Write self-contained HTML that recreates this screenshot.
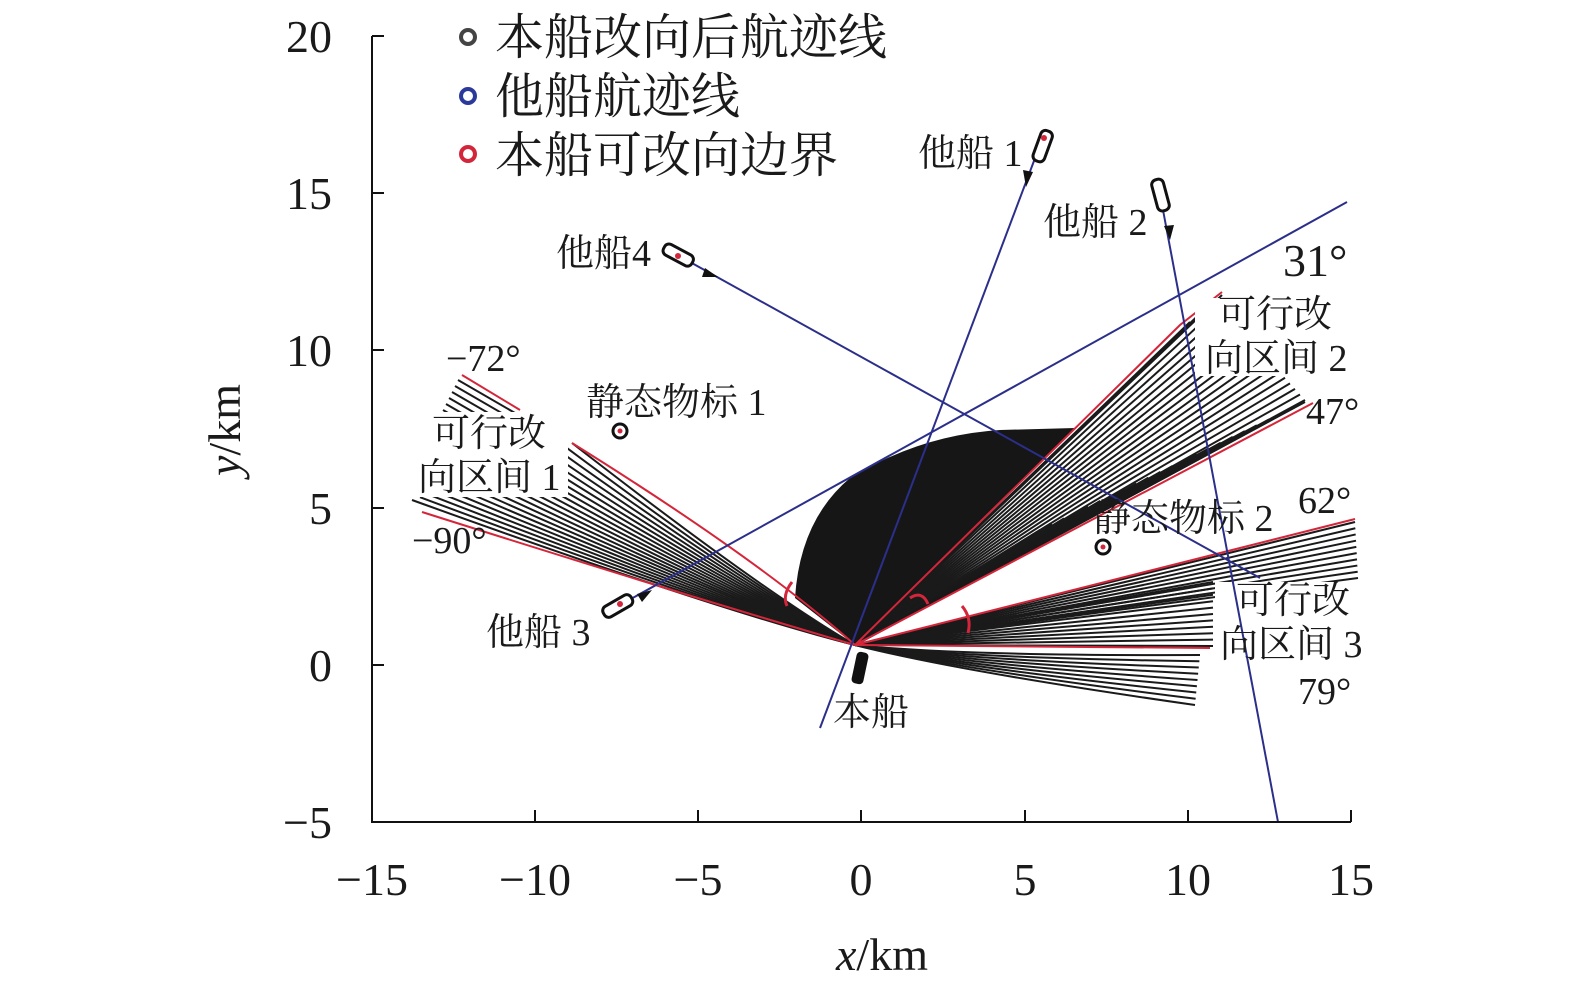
<!DOCTYPE html>
<html><head><meta charset="utf-8"><style>
html,body{margin:0;padding:0;background:#fff;}
svg{display:block;}
text{font-family:"Liberation Serif","Noto Serif CJK SC",serif;fill:#1a1a1a;}
</style></head><body>
<svg id="s" width="1575" height="1000" viewBox="0 0 1575 1000" xmlns="http://www.w3.org/2000/svg">
<rect width="1575" height="1000" fill="#fff"/>
<path d="M855,645 L795,598 Q800,520 850,478 Q920,435 1000,430 L1075,428 L1050,453 Z" fill="#161616"/>
<g id="hatch" stroke="#1a1a1a" stroke-width="2" fill="none"></g>
<g id="red" stroke="#d4263a" stroke-width="2" fill="none">
<path d="M855,645 Q700,600 422,512"/>
<path d="M855,645 Q760,560 572,443"/>
<line x1="462" y1="375" x2="520" y2="410"/>
<path d="M855,645 L1180,325 L1222,292"/>
<line x1="855" y1="645" x2="1313" y2="403"/>
<line x1="855" y1="645" x2="1355" y2="519"/>
<path d="M855,645 L1210,648"/>
<path d="M792,582 Q782,595 787,606" stroke-width="3"/>
<path d="M910,598 Q922,590 928,604" stroke-width="3"/>
<path d="M962,606 Q972,618 968,633" stroke-width="3"/>
</g>
<rect x="418" y="412" width="150" height="85" fill="#fff"/>
<rect x="1195" y="298" width="160" height="78" fill="#fff"/>
<rect x="1215" y="582" width="155" height="78" fill="#fff"/>
<g stroke="#2b2f8a" stroke-width="2" fill="none">
<line x1="1040" y1="145" x2="820" y2="728"/>
<line x1="1163" y1="210" x2="1278" y2="822"/>
<line x1="620" y1="605" x2="1347" y2="202"/>
<line x1="690" y1="262" x2="1260" y2="578"/>
</g>
<g fill="#111">
<polygon points="1026,187 1033,172 1023,170"/>
<polygon points="1170,240 1174,225 1164,226"/>
<polygon points="652,590 637,594 642,602"/>
<polygon points="718,277 705,268 702,277"/>
</g>
<g fill="#fff" stroke="#111" stroke-width="3">
<rect x="-6" y="-18" width="12" height="32" rx="5" transform="translate(1042,148) rotate(20)"/>
<rect x="-6" y="-18" width="12" height="32" rx="5" transform="translate(1161,197) rotate(-15)"/>
<rect x="-6" y="-18" width="12" height="32" rx="5" transform="translate(616,607) rotate(60)"/>
<rect x="-6" y="-18" width="12" height="32" rx="5" transform="translate(680,256) rotate(-62)"/>
</g>
<rect x="-6" y="-16" width="12" height="32" rx="4" fill="#111" transform="translate(860,668) rotate(12)"/>
<g fill="#d4263a"><circle cx="1044" cy="138" r="3"/><circle cx="620" cy="604" r="3"/><circle cx="678" cy="256" r="3"/></g>
<circle cx="620" cy="431" r="7" fill="#fff" stroke="#111" stroke-width="3"/><circle cx="620" cy="431" r="2.5" fill="#d4263a"/>
<circle cx="1103" cy="547" r="7" fill="#fff" stroke="#111" stroke-width="3"/><circle cx="1103" cy="547" r="2.5" fill="#d4263a"/>
<g stroke="#111" stroke-width="2" fill="none">
<polyline points="372,36 372,822 1351,822"/>
<line x1="372" y1="36" x2="384" y2="36"/><line x1="372" y1="193" x2="384" y2="193"/><line x1="372" y1="350" x2="384" y2="350"/><line x1="372" y1="508" x2="384" y2="508"/><line x1="372" y1="665" x2="384" y2="665"/>
<line x1="535" y1="822" x2="535" y2="810"/><line x1="698" y1="822" x2="698" y2="810"/><line x1="861" y1="822" x2="861" y2="810"/><line x1="1025" y1="822" x2="1025" y2="810"/><line x1="1188" y1="822" x2="1188" y2="810"/><line x1="1351" y1="822" x2="1351" y2="810"/>
</g>
<g font-size="46" text-anchor="end">
<text x="332" y="52">20</text><text x="332" y="209">15</text><text x="332" y="366">10</text><text x="332" y="524">5</text><text x="332" y="681">0</text><text x="332" y="838">−5</text>
</g>
<g font-size="46" text-anchor="middle">
<text x="372" y="895">−15</text><text x="535" y="895">−10</text><text x="698" y="895">−5</text><text x="861" y="895">0</text><text x="1025" y="895">5</text><text x="1188" y="895">10</text><text x="1351" y="895">15</text>
</g>
<text x="882" y="970" font-size="46" text-anchor="middle"><tspan font-style="italic">x</tspan>/km</text>
<text transform="translate(240,430) rotate(-90)" font-size="46" text-anchor="middle"><tspan font-style="italic">y</tspan>/km</text>
<g stroke-width="4" fill="none"><circle cx="468" cy="37" r="7" stroke="#444"/><circle cx="468" cy="96" r="7" stroke="#2b3a9a"/><circle cx="468" cy="154" r="7" stroke="#d4263a"/></g>
<g font-size="49"><text x="495" y="54">本船改向后航迹线</text><text x="495" y="113">他船航迹线</text><text x="495" y="172">本船可改向边界</text></g>
<g font-size="38">
<text x="918" y="166">他船 1</text>
<text x="1043" y="235">他船 2</text>
<text x="556" y="266">他船4</text>
<text x="486" y="645">他船 3</text>
<text x="833" y="725">本船</text>
<text x="586" y="415">静态物标 1</text>
<text x="1093" y="531">静态物标 2</text>
<text x="432" y="446">可行改</text><text x="418" y="490">向区间 1</text>
<text x="1218" y="327">可行改</text><text x="1205" y="371">向区间 2</text>
<text x="1236" y="613">可行改</text><text x="1220" y="657">向区间 3</text>
<text x="446" y="371">−72°</text>
<text x="412" y="553">−90°</text>
<text x="1306" y="424">47°</text>
<text x="1298" y="513">62°</text>
<text x="1298" y="704">79°</text>
</g>
<text x="1283" y="276" font-size="46">31°</text>
</svg>
<script>
(function(){
var g=document.getElementById('hatch'),ns='http://www.w3.org/2000/svg';
var P=[855,645];
function fan(a,b,n,bend){
 bend=bend||0;
 for(var i=0;i<=n;i++){var t=i/n,x=a[0]+(b[0]-a[0])*t,y=a[1]+(b[1]-a[1])*t;
  var dx=x-P[0],dy=y-P[1],L=Math.sqrt(dx*dx+dy*dy);
  var qx=P[0]+dx*0.3-dy/L*bend,qy=P[1]+dy*0.3+dx/L*bend;
  var p=document.createElementNS(ns,'path');
  p.setAttribute('d','M'+P[0]+','+P[1]+' Q'+qx+','+qy+' '+x+','+y);
  g.appendChild(p);}
}
fan([412,500],[572,443],20,-10);
for(var i=0;i<7;i++){var p=document.createElementNS(ns,'line');var y=380+i*6;p.setAttribute('x1',458-i*3);p.setAttribute('y1',y);p.setAttribute('x2',515-i*3);p.setAttribute('y2',y+33);g.appendChild(p);}
fan([1190,322],[1222,295],3);
fan([1215,300],[1305,400],18);
fan([1305,402],[1040,530],22);
fan([1355,522],[1358,578],9);
fan([1213,582],[1213,646],10);
fan([1200,655],[1195,705],8,8);
})();
</script>
</body></html>
